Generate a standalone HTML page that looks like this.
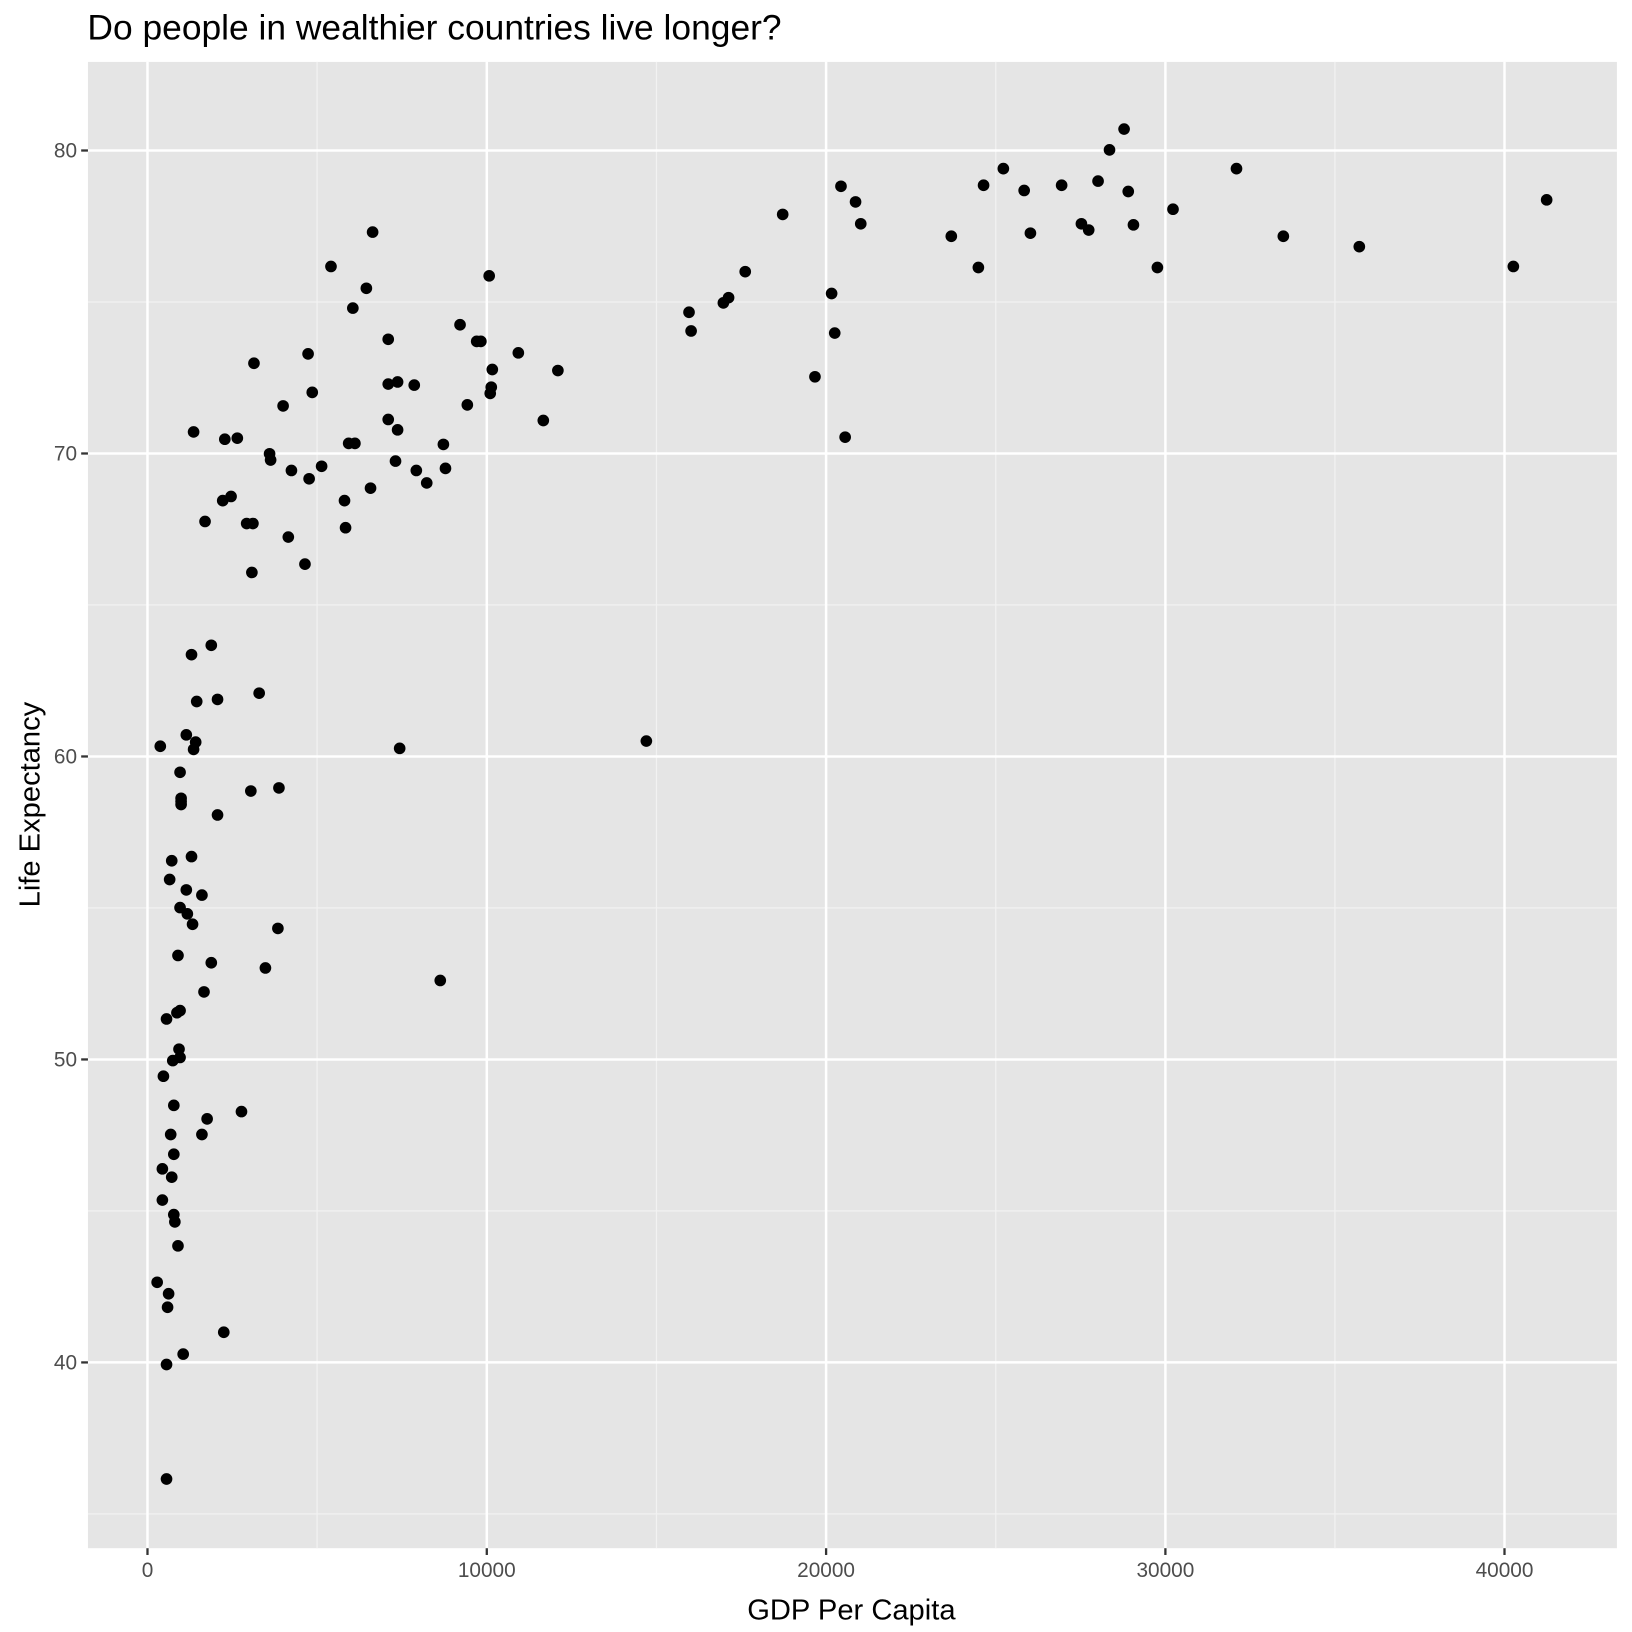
<!DOCTYPE html>
<html><head><meta charset="utf-8"><style>html,body{margin:0;padding:0;background:#fff}svg{display:block}</style></head>
<body>
<svg width="1632" height="1632" viewBox="0 0 1568 1568" xmlns="http://www.w3.org/2000/svg" font-family="Liberation Sans, Arial, sans-serif">
<rect x="84.5" y="59.5" width="1469" height="1428" fill="#e5e5e5"/>
<g stroke="#f2f2f2" stroke-width="1.2">
<line x1="304.7" x2="304.7" y1="59.5" y2="1487.5"/><line x1="630.7" x2="630.7" y1="59.5" y2="1487.5"/><line x1="956.7" x2="956.7" y1="59.5" y2="1487.5"/><line x1="1282.6" x2="1282.6" y1="59.5" y2="1487.5"/>
<line y1="290.1" y2="290.1" x1="84.5" x2="1553.5"/><line y1="581.2" y2="581.2" x1="84.5" x2="1553.5"/><line y1="872.3" y2="872.3" x1="84.5" x2="1553.5"/><line y1="1163.4" y2="1163.4" x1="84.5" x2="1553.5"/><line y1="1454.5" y2="1454.5" x1="84.5" x2="1553.5"/>
</g>
<g stroke="#fff" stroke-width="2.4">
<line x1="141.7" x2="141.7" y1="59.5" y2="1487.5"/><line x1="467.7" x2="467.7" y1="59.5" y2="1487.5"/><line x1="793.7" x2="793.7" y1="59.5" y2="1487.5"/><line x1="1119.7" x2="1119.7" y1="59.5" y2="1487.5"/><line x1="1445.5" x2="1445.5" y1="59.5" y2="1487.5"/>
<line y1="144.6" y2="144.6" x1="84.5" x2="1553.5"/><line y1="435.7" y2="435.7" x1="84.5" x2="1553.5"/><line y1="726.8" y2="726.8" x1="84.5" x2="1553.5"/><line y1="1017.9" y2="1017.9" x1="84.5" x2="1553.5"/><line y1="1309" y2="1309" x1="84.5" x2="1553.5"/>
</g>
<g stroke="#333" stroke-width="2.2">
<line x1="141.7" x2="141.7" y1="1487.5" y2="1494"/><line x1="467.7" x2="467.7" y1="1487.5" y2="1494"/><line x1="793.7" x2="793.7" y1="1487.5" y2="1494"/><line x1="1119.7" x2="1119.7" y1="1487.5" y2="1494"/><line x1="1445.5" x2="1445.5" y1="1487.5" y2="1494"/>
<line y1="144.6" y2="144.6" x1="78" x2="84.5"/><line y1="435.7" y2="435.7" x1="78" x2="84.5"/><line y1="726.8" y2="726.8" x1="78" x2="84.5"/><line y1="1017.9" y2="1017.9" x1="78" x2="84.5"/><line y1="1309" y2="1309" x1="78" x2="84.5"/>
</g>
<g fill="#4d4d4d" font-size="20" text-anchor="middle">
<text x="141.7" y="1515">0</text><text x="467.7" y="1515">10000</text><text x="793.7" y="1515">20000</text><text x="1119.7" y="1515">30000</text><text x="1445.5" y="1515">40000</text>
</g>
<g fill="#4d4d4d" font-size="20" text-anchor="end">
<text x="74" y="151.5">80</text><text x="74" y="442.6">70</text><text x="74" y="733.7">60</text><text x="74" y="1024.8">50</text><text x="74" y="1316">40</text>
</g>
<text x="818" y="1556" font-size="28" text-anchor="middle" fill="#000">GDP Per Capita</text>
<text transform="translate(38,773) rotate(-90)" font-size="28" text-anchor="middle" fill="#000">Life Expectancy</text>
<text x="84" y="38" font-size="34" fill="#000">Do people in wealthier countries live longer?</text>
<g fill="#000" id="pts"></g>
</svg>
<script>
var p=[[1486,192],[1454,256],[1306,237],[1233,227],[1188,162],[1127,201],[1112,257],[1089,216],[1084,184],[1080,124],[1066,144],[1055,174],[1046,221],[1039,215],[1020,178],[990,224],[984,183],[964,162],[945,178],[940,257],[914,227],[827,215],[822,194],[808,179],[799,282],[802,320],[812,420],[783,362],[752,206],[716,261],[700,286],[695,291],[664,318],[662,300],[621,712],[536,356],[522,404],[498,339],[473,355],[472,372],[471,378],[470,265],[462,328],[458,328],[449,389],[442,312],[428,450],[426,427],[423,942],[410,464],[400,452],[398,370],[384,719],[382,413],[382,367],[380,443],[373,369],[373,403],[373,326],[358,223],[356,469],[352,277],[339,296],[341,426],[335,426],[332,507],[331,481],[318,256],[309,448],[300,377],[297,460],[296,340],[293,542],[280,452],[277,516],[272,390],[268,757],[267,892],[260,442],[259,436],[255,930],[249,666],[244,349],[243,503],[242,550],[241,760],[237,503],[232,1068],[228,421],[222,477],[216,422],[214,481],[215,1280],[209,672],[209,783],[203,925],[203,620],[199,1075],[197,501],[196,953],[194,860],[194,1090],[189,674],[188,713],[186,720],[186,415],[185,888],[184,629],[184,823],[180,878],[179,706],[179,855],[176,1301],[174,770],[174,767],[173,742],[174,773],[173,971],[172,1008],[173,872],[173,1016],[171,918],[171,1197],[170,973],[167,1062],[167,1109],[168,1174],[167,1167],[166,1019],[165,1131],[165,827],[164,1090],[163,845],[162,1243],[161,1256],[160,979],[160,1311],[160,1421],[157,1034],[156,1123],[156,1153],[154,717],[151,1232]];
var g=document.getElementById('pts'),s='';
for(var i=0;i<p.length;i++)s+='<circle cx="'+p[i][0]+'" cy="'+p[i][1]+'" r="5.6"/>';
g.innerHTML=s;
</script>
</body></html>
